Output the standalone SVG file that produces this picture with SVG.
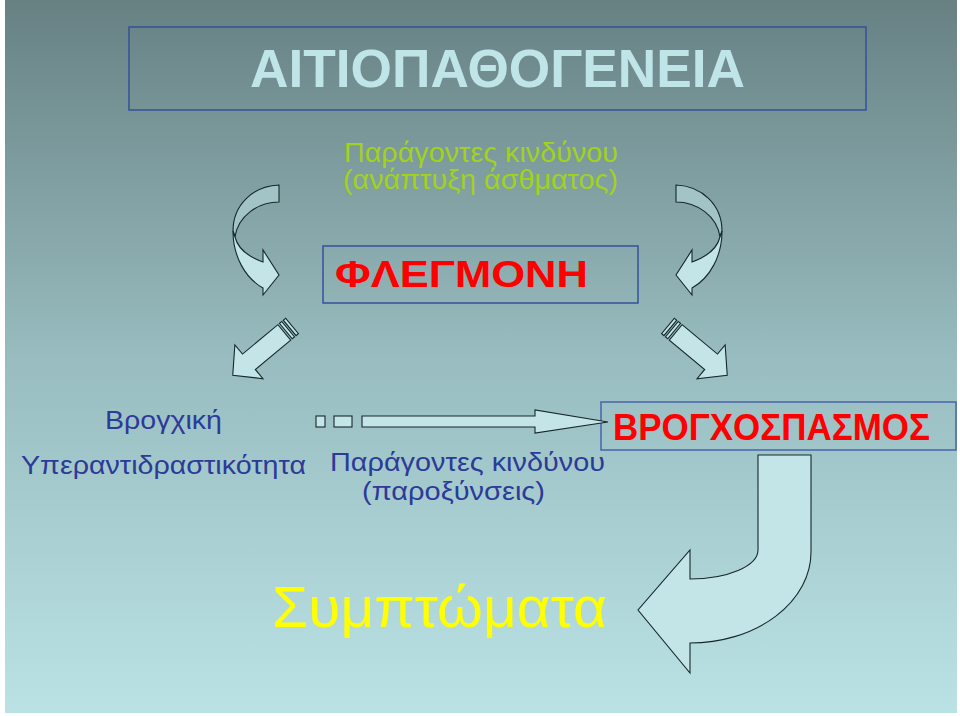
<svg xmlns="http://www.w3.org/2000/svg" width="960" height="716" viewBox="0 0 960 716">
<defs>
<linearGradient id="bg" x1="0" y1="0" x2="0" y2="1">
<stop offset="0" stop-color="#678183"/>
<stop offset="0.5" stop-color="#98bcbf"/>
<stop offset="1" stop-color="#bae2e5"/>
</linearGradient>
<g id="diag">
<rect x="0" y="-10" width="3" height="20"/>
<rect x="5" y="-10" width="3" height="20"/>
<path d="M10,-10 L56,-10 L56,-22 L77,0 L56,22 L56,10 L10,10 Z"/>
</g>
<g id="curl">
<path class="back" d="M279,185 C253,186 233,205 233,231 L235,237 C238,216 258,202 279,202 Z"/>
<path class="front" d="M233,231 C233,256 245,278 263,288 L263,295 L279,275 L263,250 L263,262 C249,257 238,249 235,237 Z"/>
</g>
</defs>
<style>
.box{fill:none;stroke:#34509a;stroke-width:1.5}
.arr{fill:#c4e5e8;stroke:#15282a;stroke-width:1.1;stroke-linejoin:miter}
.back{fill:#a2c4c6;stroke:#15282a;stroke-width:1.1}
.front{fill:#c4e5e8;stroke:#15282a;stroke-width:1.1}
.t{font-family:"Liberation Sans",Arial,sans-serif}
.b{font-weight:bold}
.green{fill:#a2d21c;font-size:27px}
.blue{fill:#2c3b98;font-size:26.5px}
.red{fill:#ff0000}
</style>
<rect x="0" y="0" width="960" height="716" fill="#ffffff"/>
<rect x="5" y="0" width="952" height="713" fill="url(#bg)"/>

<g id="title">
<rect class="box" x="129" y="27" width="737" height="83"/>
<text class="t b" x="250" y="87" font-size="53" fill="#bfe5e8" textLength="495" lengthAdjust="spacingAndGlyphs">ΑΙΤΙΟΠΑΘΟΓΕΝΕΙΑ</text>
</g>

<g id="risk-top">
<text class="t green" x="344" y="162" textLength="274" lengthAdjust="spacingAndGlyphs">Παράγοντες κινδύνου</text>
<text class="t green" x="343" y="189" textLength="275" lengthAdjust="spacingAndGlyphs">(ανάπτυξη άσθματος)</text>
</g>

<g id="inflammation">
<rect class="box" x="323" y="246" width="315" height="57"/>
<text class="t b red" x="335" y="287" font-size="37" textLength="253" lengthAdjust="spacingAndGlyphs">ΦΛΕΓΜΟΝΗ</text>
</g>

<g id="hyper">
<text class="t blue" x="163.5" y="429" text-anchor="middle" textLength="117" lengthAdjust="spacingAndGlyphs">Βρογχική</text>
<text class="t blue" x="163.5" y="474" text-anchor="middle" textLength="285" lengthAdjust="spacingAndGlyphs">Υπεραντιδραστικότητα</text>
</g>

<g id="risk-bottom">
<text class="t blue" x="330" y="471" textLength="275" lengthAdjust="spacingAndGlyphs">Παράγοντες κινδύνου</text>
<text class="t blue" x="362" y="500" textLength="183" lengthAdjust="spacingAndGlyphs">(παροξύνσεις)</text>
</g>

<g id="bronchospasm">
<rect x="601" y="402" width="355" height="48" fill="none" stroke="#4863aa" stroke-width="1.5"/>
<text class="t b red" x="613" y="440" font-size="36" textLength="317" lengthAdjust="spacingAndGlyphs">ΒΡΟΓΧΟΣΠΑΣΜΟΣ</text>
</g>

<g id="symptoms">
<text class="t" x="272" y="627" font-size="57" fill="#ffff00" textLength="335" lengthAdjust="spacingAndGlyphs">Συμπτώματα</text>
</g>

<g id="connectors">
<use href="#curl"/>
<use href="#curl" transform="translate(955,0) scale(-1,1)"/>
<use href="#diag" class="arr" transform="translate(292,326) rotate(140.3)"/>
<use href="#diag" class="arr" transform="translate(668,326) rotate(39.7)"/>
<g class="arr">
<rect x="316" y="416" width="9" height="11"/>
<rect x="334" y="416" width="18" height="11"/>
<path d="M362,416 L535,416 L535,410 L608,422 L535,433 L535,427 L362,427 Z"/>
</g>
<path class="arr" d="M758,455 L811,455 L811,552 A121 91 0 0 1 690,643 L690,673 L638,610 L690,550 L690,579 A68 29 0 0 0 758,550 Z"/>
</g>
</svg>
